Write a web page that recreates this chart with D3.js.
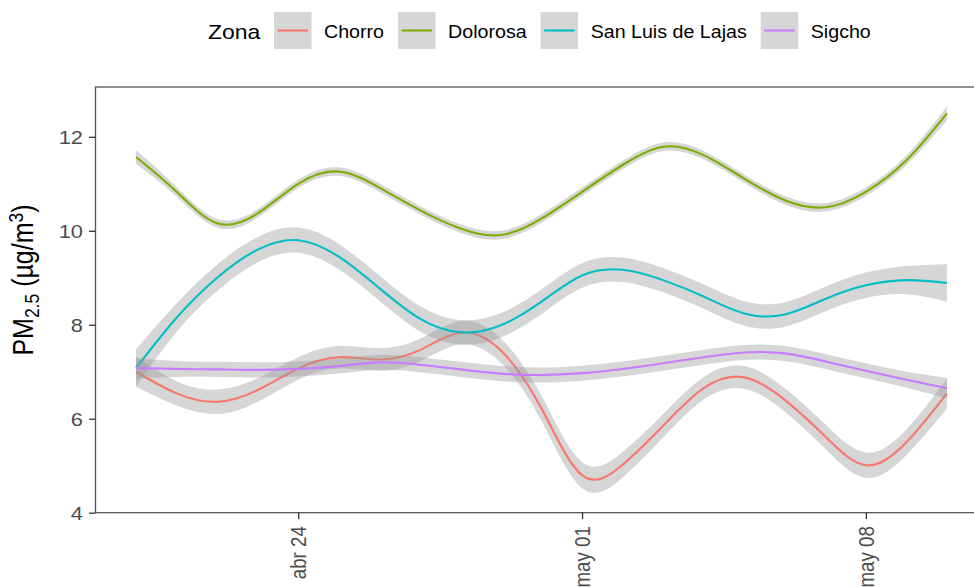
<!DOCTYPE html>
<html>
<head>
<meta charset="utf-8">
<script src="https://cdn.jsdelivr.net/npm/d3@7.9.0/dist/d3.min.js"></script>
<style>
  body { margin: 0; background: #fff; }
  svg { display: block; font-family: "Liberation Sans", Arial, sans-serif; }
</style>
</head>
<body>
<svg id="chart" width="974" height="587"></svg>
<script>
// daily smoothed PM2.5 (loess fit), with half-width of the ribbon
const dates = ["2023-04-20", "2023-04-21", "2023-04-22", "2023-04-23", "2023-04-24", "2023-04-25", "2023-04-26",
               "2023-04-27", "2023-04-28", "2023-04-29", "2023-04-30", "2023-05-01", "2023-05-02", "2023-05-03",
               "2023-05-04", "2023-05-05", "2023-05-06", "2023-05-07", "2023-05-08", "2023-05-09", "2023-05-10"];
const zonas = ["Chorro", "Dolorosa", "San Luis de Lajas", "Sigcho"];

const chorro   = [7.00, 6.54, 6.36, 6.61, 7.07, 7.31, 7.26, 7.46, 7.83, 7.45, 6.22, 4.80, 5.02, 5.85, 6.65, 6.88, 6.40, 5.62, 5.01, 5.50, 6.54];
const dolorosa = [11.57, 10.83, 10.16, 10.37, 11.00, 11.26, 10.92, 10.44, 10.05, 9.91, 10.26, 10.83, 11.40, 11.79, 11.61, 11.11, 10.65, 10.50, 10.83, 11.50, 12.50];
const sanLuis  = [7.08, 8.15, 9.00, 9.60, 9.80, 9.45, 8.78, 8.13, 7.84, 7.99, 8.49, 9.05, 9.17, 8.95, 8.60, 8.24, 8.22, 8.55, 8.84, 8.95, 8.89];
const sigcho   = [7.08, 7.06, 7.05, 7.04, 7.06, 7.12, 7.20, 7.15, 7.05, 6.96, 6.93, 6.97, 7.06, 7.18, 7.31, 7.41, 7.39, 7.22, 7.02, 6.83, 6.65];

const chorroSe   = [0.32, 0.26, 0.26, 0.25, 0.24, 0.24, 0.24, 0.24, 0.25, 0.26, 0.27, 0.28, 0.27, 0.25, 0.24, 0.24, 0.25, 0.26, 0.27, 0.27, 0.32];
const dolorosaSe = [0.15, 0.10, 0.09, 0.09, 0.09, 0.09, 0.09, 0.09, 0.09, 0.09, 0.09, 0.09, 0.09, 0.09, 0.09, 0.09, 0.09, 0.09, 0.09, 0.10, 0.15];
const sanLuisSe  = [0.40, 0.30, 0.28, 0.27, 0.27, 0.27, 0.27, 0.27, 0.26, 0.26, 0.26, 0.26, 0.26, 0.26, 0.26, 0.26, 0.26, 0.26, 0.27, 0.30, 0.40];
const sigchoSe   = [0.22, 0.17, 0.16, 0.16, 0.16, 0.16, 0.16, 0.16, 0.16, 0.16, 0.16, 0.16, 0.16, 0.16, 0.16, 0.16, 0.16, 0.16, 0.16, 0.17, 0.22];

const tickDates = ["2023-04-24", "2023-05-01", "2023-05-08"];
const yTicks = [4, 6, 8, 10, 12];
const xLimits = ["2023-04-19", "2023-05-11"];
const yLimits = [4, 13.06];

const colors = ["#F8766D", "#7CAE00", "#00BFC4", "#C77CFF"];

// the reference is a bit wider than tall, text glyphs are stretched horizontally
const SX = 1.15;
const SX_LEGEND = 1.11;

const parse = d3.timeParse("%Y-%m-%d");
const es = d3.timeFormatLocale({
  dateTime: "%A, %e de %B de %Y, %X", date: "%d/%m/%Y", time: "%H:%M:%S", periods: ["AM", "PM"],
  days: ["domingo", "lunes", "martes", "miércoles", "jueves", "viernes", "sábado"],
  shortDays: ["dom", "lun", "mar", "mié", "jue", "vie", "sáb"],
  months: ["enero", "febrero", "marzo", "abril", "mayo", "junio", "julio", "agosto", "septiembre", "octubre", "noviembre", "diciembre"],
  shortMonths: ["ene", "feb", "mar", "abr", "may", "jun", "jul", "ago", "sep", "oct", "nov", "dic"]
});
const fmt = es.format("%b %d");

const panel = { left: 95.5, right: 987.5, top: 87, bottom: 512.7 };

const x = d3.scaleTime().domain(xLimits.map(parse)).range([panel.left, panel.right]);
const y = d3.scaleLinear().domain(yLimits).range([panel.bottom, panel.top]);

const series = [
  { name: zonas[0], values: chorro, se: chorroSe },
  { name: zonas[1], values: dolorosa, se: dolorosaSe },
  { name: zonas[2], values: sanLuis, se: sanLuisSe },
  { name: zonas[3], values: sigcho, se: sigchoSe }
].map((s, i) => ({
  ...s,
  color: colors[i],
  points: dates.map((d, j) => ({ date: parse(d), v: s.values[j], se: s.se[j] }))
}));

const svg = d3.select("#chart");

svg.append("defs").append("clipPath").attr("id", "clip")
  .append("rect")
  .attr("x", panel.left).attr("y", panel.top)
  .attr("width", panel.right - panel.left).attr("height", panel.bottom - panel.top);

const area = d3.area()
  .x(d => x(d.date))
  .y0(d => y(d.v - d.se))
  .y1(d => y(d.v + d.se))
  .curve(d3.curveNatural);

const line = d3.line()
  .x(d => x(d.date))
  .y(d => y(d.v))
  .curve(d3.curveNatural);

const plot = svg.append("g").attr("clip-path", "url(#clip)");

// ggplot draws ribbon then line, group by group
series.forEach(s => {
  plot.append("path")
    .attr("d", area(s.points))
    .attr("fill", "#999999")
    .attr("fill-opacity", 0.4);
  plot.append("path")
    .attr("d", line(s.points))
    .attr("fill", "none")
    .attr("stroke", s.color)
    .attr("stroke-width", 2.1);
});

// panel border
svg.append("rect")
  .attr("x", panel.left).attr("y", panel.top)
  .attr("width", panel.right - panel.left).attr("height", panel.bottom - panel.top)
  .attr("fill", "none")
  .attr("stroke", "#555")
  .attr("stroke-width", 1.3);

// y axis
const yAxis = svg.append("g")
  .attr("transform", `translate(${panel.left},0)`)
  .call(d3.axisLeft(y).tickValues(yTicks).tickSize(6.5).tickSizeOuter(0));
yAxis.select(".domain").remove();
yAxis.selectAll(".tick line").attr("stroke", "#333").attr("stroke-width", 1.3);
yAxis.selectAll(".tick text")
  .attr("x", null).attr("dy", "0.36em")
  .attr("transform", `translate(-12.5,0) scale(${SX},1)`)
  .attr("fill", "#4d4d4d")
  .style("font-size", "19px")
  .style("font-family", "Liberation Sans, Arial, sans-serif");

// x axis
const xAxis = svg.append("g")
  .attr("transform", `translate(0,${panel.bottom})`)
  .call(d3.axisBottom(x).tickValues(tickDates.map(parse)).tickFormat(fmt).tickSize(6.5).tickSizeOuter(0));
xAxis.select(".domain").remove();
xAxis.selectAll(".tick line").attr("stroke", "#333").attr("stroke-width", 1.3);
xAxis.selectAll(".tick text")
  .attr("x", 0).attr("y", 0).attr("dy", "0.36em")
  .attr("transform", `translate(0,13.5) scale(${SX},1) rotate(-90)`)
  .attr("text-anchor", "end")
  .attr("fill", "#4d4d4d")
  .style("font-size", "18.7px")
  .style("font-family", "Liberation Sans, Arial, sans-serif");

// y axis title: PM2.5 (µg/m3)
const yTitle = svg.append("text")
  .attr("transform", `translate(33,280) scale(${SX},1) rotate(-90)`)
  .attr("text-anchor", "middle")
  .attr("fill", "#000")
  .style("font-size", "25px");
yTitle.append("tspan").text("PM");
yTitle.append("tspan").attr("dy", 5).style("font-size", "17.5px").text("2.5");
yTitle.append("tspan").attr("dy", -5).text(" (µg/m");
yTitle.append("tspan").attr("dy", -9).style("font-size", "17.5px").text("3");
yTitle.append("tspan").attr("dy", 9).text(")");

// legend on top
const legend = svg.append("g");
const title = legend.append("text")
  .attr("transform", `translate(208,39) scale(${SX},1)`)
  .style("font-size", "20px")
  .text("Zona");
let cx = 208 + title.node().getComputedTextLength() * SX + 13.6;
const keyW = 37.5, keyH = 37, keyTop = 12;

series.forEach(s => {
  legend.append("rect")
    .attr("x", cx).attr("y", keyTop)
    .attr("width", keyW).attr("height", keyH)
    .attr("fill", "#999999").attr("fill-opacity", 0.4);
  legend.append("line")
    .attr("x1", cx + 3.5).attr("x2", cx + keyW - 3.5)
    .attr("y1", keyTop + keyH / 2).attr("y2", keyTop + keyH / 2)
    .attr("stroke", s.color).attr("stroke-width", 2.1);
  const lbl = legend.append("text")
    .attr("transform", `translate(${cx + keyW + 12.5},37.7) scale(${SX_LEGEND},1)`)
    .style("font-size", "17.7px")
    .text(s.name);
  cx += keyW + 12.5 + lbl.node().getComputedTextLength() * SX_LEGEND + 14;
});
</script>
</body>
</html>
